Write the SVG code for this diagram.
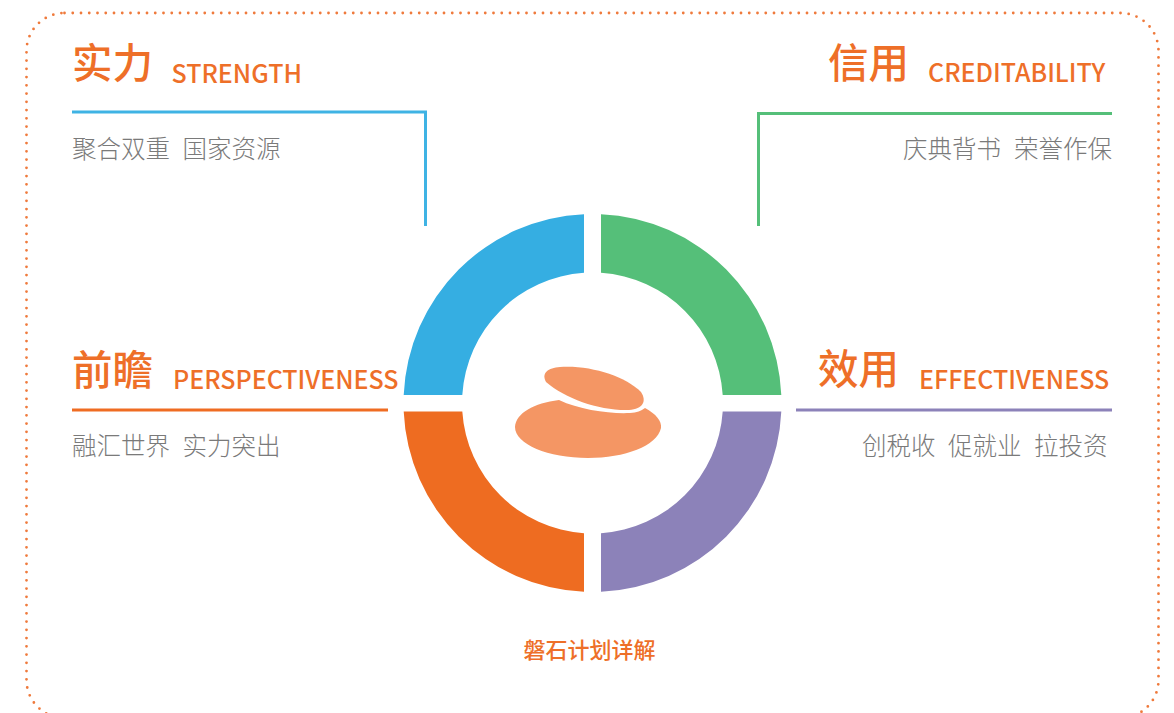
<svg xmlns="http://www.w3.org/2000/svg" width="1174" height="713" viewBox="0 0 1174 713">
<style>
text{font-family:"Noto Sans CJK SC","Noto Sans",sans-serif}
.h{font-size:40.500px;fill:#ee6f28;font-weight:500}
.e{font-size:25px;fill:#ee6f28;font-weight:500}
.s{font-size:24.500px;fill:#7a7a7a;font-weight:300}
.l{fill:none;stroke-width:3}
</style>
<rect width="1174" height="713" fill="#fff"/>
<rect x="26.500" y="13" width="1132" height="705" rx="38" fill="none" stroke="#ef7a3c" stroke-width="2.800" stroke-linecap="round" stroke-dasharray="0 8.250"/>
<g id="connectors">
<path class="l" stroke="#3fb3e4" d="M72 112H425.500V226"/>
<path class="l" stroke="#55bf79" d="M1112 113.500H758.500V226"/>
<path class="l" stroke="#ef6c22" d="M72 410H388"/>
<path class="l" stroke="#8c82b9" d="M796 410H1112"/>
</g>
<g id="ring">
<path fill="#35aee2" d="M584 214.200A189 189 0 0 0 403.700 395H462.300A130.500 130.500 0 0 1 584 272.800Z"/>
<path fill="#55bf79" d="M601 214.200A189 189 0 0 1 781.300 395H722.700A130.500 130.500 0 0 0 601 272.800Z"/>
<path fill="#ee6c21" d="M584 591.800A189 189 0 0 1 403.700 411.500H462.300A130.500 130.500 0 0 0 584 533.200Z"/>
<path fill="#8c82b9" d="M601 591.800A189 189 0 0 0 781.300 411.500H722.700A130.500 130.500 0 0 1 601 533.200Z"/>
</g>
<g id="stones" fill="#f49664">
<path d="M560 367C590 365 625 376 641 392C647 401 643 409 629 410C600 411 566 399 546 382C541 373 548 368 560 367Z"/>
<path d="M559 400C580 410 610 414 630 413C637 412.500 641 411 645 408C656 414 662 421 661 428C657 446 625 458 588 458C548 458 515 444 515 427C516 413 534 403 559 400Z"/>
</g>
<g id="strength">
<text class="h" x="72" y="78">实力</text><text class="e" x="171.500" y="83">STRENGTH</text>
<text class="s" x="72" y="157.500">聚合双重</text><text class="s" x="182.500" y="157.500">国家资源</text>
</g>
<g id="credit">
<text class="h" x="828" y="78">信用</text><text class="e" x="928" y="82">CREDITABILITY</text>
<text class="s" x="903" y="157.500">庆典背书</text><text class="s" x="1014" y="157.500">荣誉作保</text>
</g>
<g id="perspective">
<text class="h" x="72" y="385">前瞻</text><text class="e" x="173" y="389">PERSPECTIVENESS</text>
<text class="s" x="72" y="455">融汇世界</text><text class="s" x="182.500" y="455">实力突出</text>
</g>
<g id="effect">
<text class="h" x="818" y="384">效用</text><text class="e" x="919" y="389">EFFECTIVENESS</text>
<text class="s" x="862" y="455">创税收</text><text class="s" x="948" y="455">促就业</text><text class="s" x="1034" y="455">拉投资</text>
</g>
<text x="589.500" y="658" text-anchor="middle" font-size="22" font-weight="500" fill="#ee6f28">磐石计划详解</text>
</svg>
